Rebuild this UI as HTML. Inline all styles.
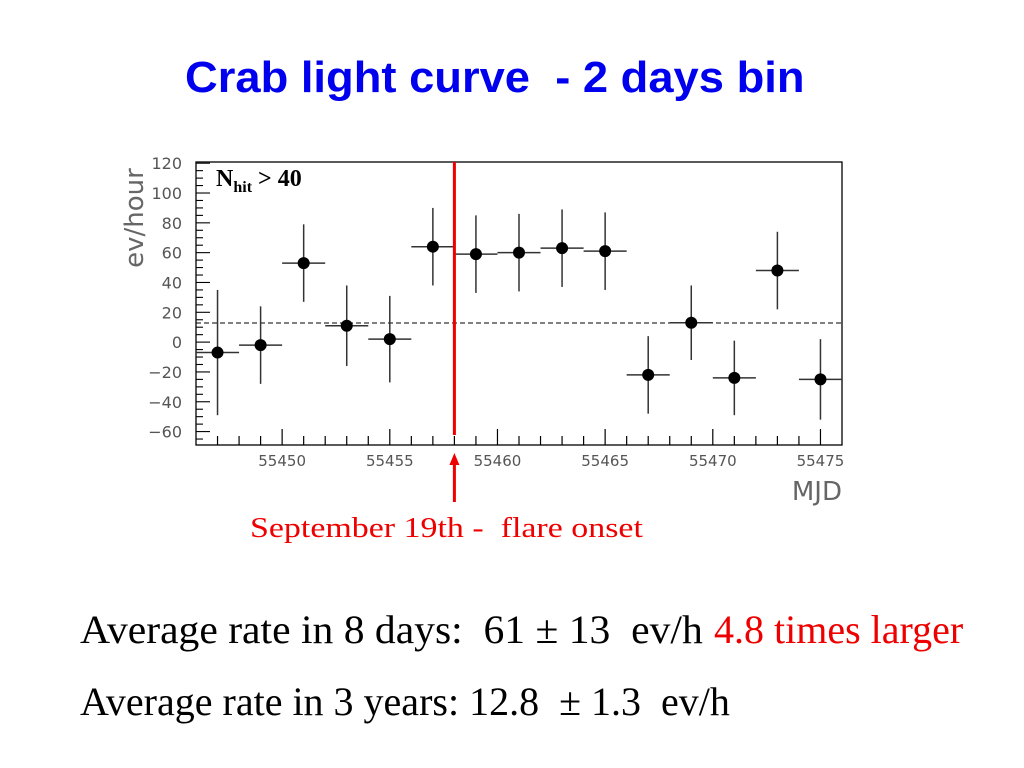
<!DOCTYPE html>
<html><head><meta charset="utf-8"><style>
body{margin:0;width:1024px;height:768px;background:#fff;overflow:hidden;position:relative;font-family:"Liberation Serif",serif}
.t{position:absolute;white-space:nowrap;transform-origin:left top}
</style></head><body>
<div class="t" style="left:185px;top:53px;font-family:'Liberation Sans',sans-serif;font-weight:bold;font-size:44px;color:#0000ee;transform:scaleX(1.03)">Crab light curve&nbsp; - 2 days bin</div>
<svg id="chart" width="1024" height="560" style="position:absolute;left:0;top:0"></svg>
<div class="t" style="left:250px;top:512px;font-size:29px;color:#ee0000;transform:scaleX(1.17)">September 19th -&nbsp; flare onset</div>
<div class="t" style="left:80px;top:606px;font-size:40px;color:#000;transform:scaleX(1.04)">Average rate in 8 days:&nbsp; 61 ± 13&nbsp; ev/h</div>
<div class="t" style="left:714px;top:606px;font-size:40px;color:#ee0000">4.8 times larger</div>
<div class="t" style="left:80px;top:678px;font-size:40px;color:#000">Average rate in 3 years: 12.8&nbsp; ± 1.3&nbsp; ev/h</div>
<script>
const mjd=[55447,55449,55451,55453,55455,55457,55459,55461,55463,55465,55467,55469,55471,55473,55475];
const rate=[-7,-2,53,11,2,64,59,60,63,61,-22,13,-24,48,-25];
const rateErr=[42,26,26,27,29,26,26,26,26,26,26,25,25,26,27];
const xTicks=[55450,55455,55460,55465,55470,55475];
const yTicks=[-60,-40,-20,0,20,40,60,80,100,120];
const avgRate=12.8;
const flareMjd=55458;
const L=196,R=842,T=162,B=445,X0=55446,X1=55476,Y0=-69,Y1=120.8;
const X=v=>L+(v-X0)/(X1-X0)*(R-L);
const Y=v=>B-(v-Y0)/(Y1-Y0)*(B-T);
const svg=document.getElementById('chart');const NS='http://www.w3.org/2000/svg';
function mk(tag,a,name){const e=document.createElementNS(NS,tag);for(const k in a)e.setAttribute(k,a[k]);


svg.appendChild(e);return e;}
mk('rect',{x:L,y:T,width:R-L,height:B-T,fill:'none',stroke:'#000','stroke-width':1.3},'plot-frame');
for(let d=X0+1;d<X1;d++){const maj=d%5===0;mk('line',{x1:X(d),x2:X(d),y1:B,y2:B-(maj?16:9),stroke:'#000','stroke-width':1.2},'x-tick');}
xTicks.forEach(v=>{const t=mk('text',{x:X(v),y:B+21,'text-anchor':'middle','font-family':'DejaVu Sans,sans-serif','font-size':15,fill:'#555'},'x-tick-label');t.textContent=v;});
for(let v=-65;v<=120;v+=5){const maj=v%20===0;mk('line',{x1:L,x2:L+(maj?14:7),y1:Y(v),y2:Y(v),stroke:'#000','stroke-width':1.1},'y-tick');}
yTicks.forEach(v=>{const t=mk('text',{x:L-14,y:Y(v)+6,'text-anchor':'end','font-family':'DejaVu Sans,sans-serif','font-size':16,fill:'#555'},'y-tick-label');t.textContent=v<0?'\u2212'+(-v):v;});
let yt=mk('text',{x:0,y:0,transform:'translate(143,218) rotate(-90)','text-anchor':'middle','font-family':'DejaVu Sans,sans-serif','font-size':26,fill:'#666'},'y-axis-title');yt.textContent='ev/hour';
let xt=mk('text',{x:R,y:B+55,'text-anchor':'end','font-family':'DejaVu Sans,sans-serif','font-size':26,fill:'#666'},'x-axis-title');xt.textContent='MJD';
mk('line',{x1:L,x2:R,y1:Y(avgRate),y2:Y(avgRate),stroke:'#000','stroke-width':1,'stroke-dasharray':'5,3'},'average-line');
mjd.forEach((m,i)=>{
mk('line',{x1:X(m-1),x2:X(m+1),y1:Y(rate[i]),y2:Y(rate[i]),stroke:'#333','stroke-width':1.5},'x-error-bar');
mk('line',{x1:X(m),x2:X(m),y1:Y(rate[i]-rateErr[i]),y2:Y(rate[i]+rateErr[i]),stroke:'#333','stroke-width':1.5},'y-error-bar');
mk('circle',{cx:X(m),cy:Y(rate[i]),r:6,fill:'#000'},'data-point');});
mk('line',{x1:X(flareMjd),x2:X(flareMjd),y1:T,y2:B-10,stroke:'#ee0000','stroke-width':3},'flare-line');
mk('line',{x1:X(flareMjd),x2:X(flareMjd),y1:B+20,y2:502,stroke:'#ee0000','stroke-width':3},'flare-arrow-shaft');
mk('polygon',{points:`${X(flareMjd)-5},${B+20} ${X(flareMjd)+5},${B+20} ${X(flareMjd)},${B+8}`,fill:'#ee0000'},'flare-arrow-head');
let lb=mk('text',{x:216,y:186,'font-family':'Liberation Serif,serif','font-weight':'bold','font-size':24,fill:'#000'},'nhit-label');
lb.innerHTML='N<tspan font-size="16" dy="6">hit</tspan><tspan dy="-6"> &gt; 40</tspan>';
</script>
</body></html>
